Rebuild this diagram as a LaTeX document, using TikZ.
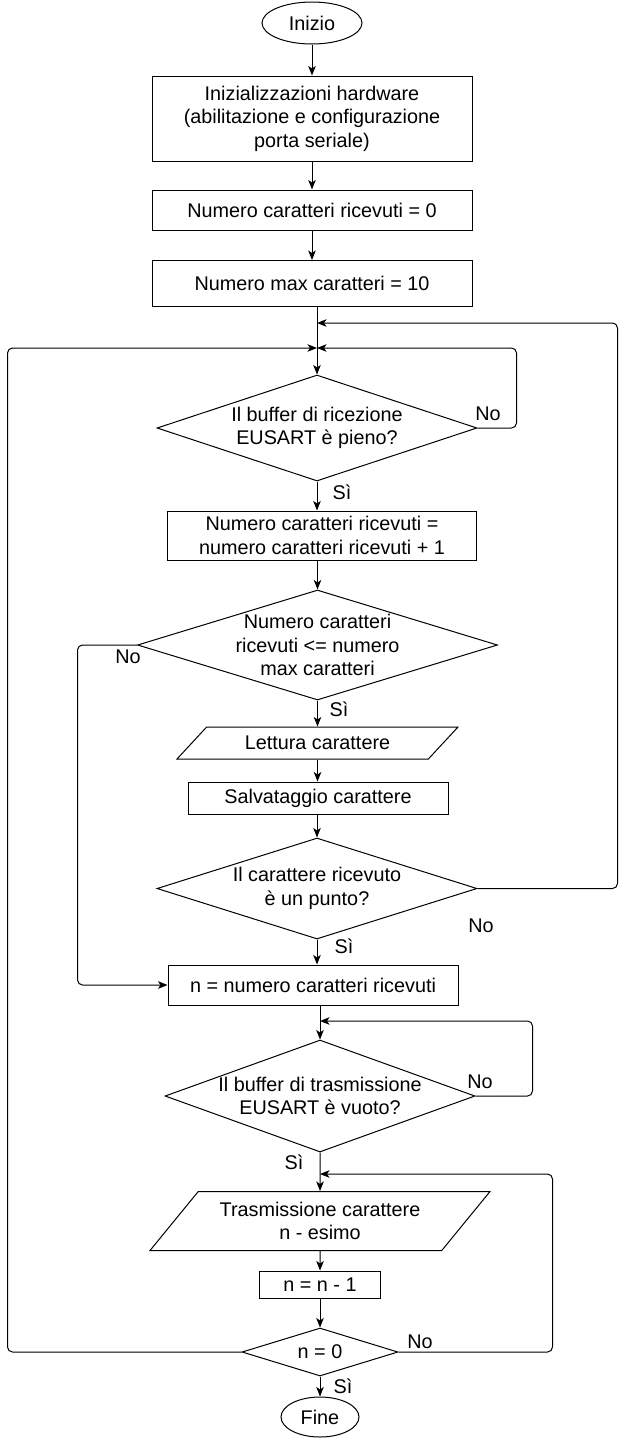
\documentclass[tikz,border=0pt]{standalone}
\usepackage{fontspec}
\setmainfont{Liberation Sans}
\usetikzlibrary{positioning,shapes.geometric,arrows.meta}

\tikzset{
	blocco/.style={draw,rectangle,inner sep=0pt,align=center},
	scelta/.style={draw,diamond,aspect=3,inner sep=-8pt,align=center},
	ingresso/.style={draw,trapezium,trapezium stretches body,inner sep=2pt,align=center},
	estremo/.style={draw,ellipse,inner sep=0pt},
	freccia/.style={-{Stealth[length=9.5pt,width=7.5pt,inset=2.5pt]}},
	ritorno/.style={freccia,rounded corners=5pt},
	etich/.style={inner sep=0pt},
}

\begin{document}
\begin{tikzpicture}[x=1pt,y=1pt,line width=1pt,font=\fontsize{19.8}{23.4}\selectfont]
			\useasboundingbox (0,0) rectangle (626,-1441);
			\coordinate (o) at (0,0);
			%% inizio e inizializzazioni
			\node[estremo,minimum width=100pt,minimum height=42pt,below right=23pt and 312pt of o,anchor=center] (start) {Inizio};
			\node[blocco,minimum width=320pt,minimum height=85pt,below right=118.5pt and 312pt of o,anchor=center] (hw) {Inizializzazioni hardware\\(abilitazione e configurazione\\porta seriale)};
			\node[blocco,minimum width=320pt,minimum height=40pt,below right=210pt and 312pt of o,anchor=center] (azzera) {Numero caratteri ricevuti = 0};
			\node[blocco,minimum width=320pt,minimum height=46pt,below right=283.5pt and 312pt of o,anchor=center] (massimo) {Numero max caratteri = 10};
			\coordinate[below right=323pt and 317pt of o] (j1);
			\coordinate[below right=348pt and 317pt of o] (j2);
			%% ricezione
			\node[scelta,minimum width=320pt,minimum height=106pt,below right=428pt and 317pt of o,anchor=center] (ric) {Il buffer di ricezione\\EUSART è pieno?};
			\node[blocco,minimum width=309pt,minimum height=49pt,below right=535.5pt and 322pt of o,anchor=center] (incr) {Numero caratteri ricevuti =\\numero caratteri ricevuti + 1};
			\node[scelta,minimum width=360pt,minimum height=110pt,below right=645pt and 317.5pt of o,anchor=center] (conf) {Numero caratteri\\ricevuti <= numero\\max caratteri};
			\node[ingresso,trapezium left angle=31,trapezium right angle=149,minimum width=281pt,minimum height=32pt,below right=743pt and 317.5pt of o,anchor=center] (lett) {Lettura carattere};
			\node[blocco,minimum width=260pt,minimum height=32pt,below right=798pt and 318pt of o,anchor=center] (salva) {Salvataggio carattere};
			\node[scelta,minimum width=320pt,minimum height=101pt,below right=888.5pt and 317pt of o,anchor=center] (punto) {Il carattere ricevuto\\è un punto?};
			%% trasmissione
			\node[blocco,minimum width=290pt,minimum height=40pt,below right=985pt and 313pt of o,anchor=center] (conta) {n = numero caratteri ricevuti};
			\coordinate[below right=1021pt and 320pt of o] (j3);
			\node[scelta,minimum width=310pt,minimum height=112pt,below right=1096pt and 320pt of o,anchor=center] (tx) {Il buffer di trasmissione\\EUSART è vuoto?};
			\coordinate[below right=1174pt and 320pt of o] (j4);
			\node[ingresso,trapezium left angle=41,trapezium right angle=139,minimum width=340pt,minimum height=59pt,below right=1221pt and 320pt of o,anchor=center] (trasm) {Trasmissione carattere\\n - esimo};
			\node[blocco,minimum width=121pt,minimum height=27pt,below right=1284.5pt and 320pt of o,anchor=center] (dec) {n = n - 1};
			\node[scelta,minimum width=156pt,minimum height=48pt,below right=1352pt and 320pt of o,anchor=center] (zero) {n = 0};
			\node[estremo,minimum width=78pt,minimum height=40pt,below right=1417pt and 320pt of o,anchor=center] (fine) {Fine};
			%% etichette
			\node[etich,below right=414pt and 488pt of o,anchor=center] (no1) {No};
			\node[etich,below right=492pt and 342pt of o,anchor=center] (si1) {Sì};
			\node[etich,below right=657pt and 128pt of o,anchor=center] (no2) {No};
			\node[etich,below right=709pt and 339pt of o,anchor=center] (si2) {Sì};
			\node[etich,below right=926pt and 481pt of o,anchor=center] (no3) {No};
			\node[etich,below right=946pt and 344pt of o,anchor=center] (si3) {Sì};
			\node[etich,below right=1082pt and 480pt of o,anchor=center] (no4) {No};
			\node[etich,below right=1162pt and 294pt of o,anchor=center] (si4) {Sì};
			\node[etich,below right=1342pt and 420pt of o,anchor=center] (no5) {No};
			\node[etich,below right=1386pt and 343pt of o,anchor=center] (si5) {Sì};
			% collegamenti
			\draw[freccia] (start) -- (hw);
			\draw[freccia] (hw) -- (azzera);
			\draw[freccia] (azzera) -- (massimo);
			\draw[freccia] (ric.north |- massimo.south) -- (ric.north);
			\draw[freccia] (ric.south) -- (ric.south |- incr.north);
			\draw[freccia] (conf.north |- incr.south) -- (conf.north);
			\draw[freccia] (conf.south) -- (conf.south |- lett.north);
			\draw[freccia] (lett.south) -- (lett.south |- salva.north);
			\draw[freccia] (punto.north |- salva.south) -- (punto.north);
			\draw[freccia] (punto.south) -- (punto.south |- conta.north);
			\draw[freccia] (tx.north |- conta.south) -- (tx.north);
			\draw[freccia] (tx.south) -- (trasm.north);
			\draw[freccia] (trasm) -- (dec);
			\draw[freccia] (dec) -- (zero);
			\draw[freccia] (zero) -- (fine);
			% cicli
			\draw[ritorno] (ric.east) -- ++(39,0) |- (j2);
			\draw[ritorno] (conf.west) -- ++(-59.5,0) |- (conta.west);
			\draw[ritorno] (punto.east) -- ++(140,0) |- (j1);
			\draw[ritorno] (tx.east) -- ++(57,0) |- (j3);
			\draw[ritorno] (zero.west) -- ++(-234,0) |- (j2);
			\draw[ritorno] (zero.east) -- ++(154,0) |- (j4);
\end{tikzpicture}
\end{document}
